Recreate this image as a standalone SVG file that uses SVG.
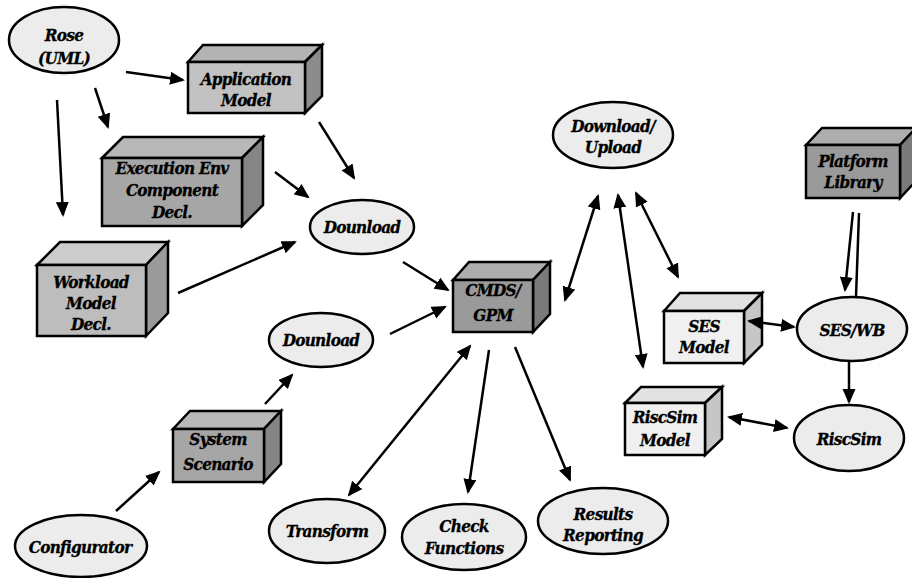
<svg xmlns="http://www.w3.org/2000/svg" width="912" height="578" viewBox="0 0 912 578">
  <style>
    text { font-family: "DejaVu Serif Condensed", "DejaVu Serif", serif; font-stretch: condensed; font-weight: 700; font-style: italic; font-size: 17px; fill: #000; stroke: #000; stroke-width: 0.3; text-anchor: middle; letter-spacing: -0.7px; }
    .oval { fill: #ececec; stroke: #000; stroke-width: 2.5; }
    .box path, .box rect { stroke: #000; stroke-width: 2.5; stroke-linejoin: miter; }
    .edge { stroke: #000; stroke-width: 2.5; fill: none; }
    .one { marker-end: url(#tip); }
    .two { marker-end: url(#tip); marker-start: url(#tip); }
    /* box shade sets: f = front, t = top, s = side */
    .lt .f { fill: #c2c2c2; } .lt .t { fill: #b3b3b3; } .lt .s { fill: #8c8c8c; }
    .md .f { fill: #a6a6a6; } .md .t { fill: #b8b8b8; } .md .s { fill: #858585; }
    .wl .f { fill: #bdbdbd; } .wl .t { fill: #cccccc; } .wl .s { fill: #9a9a9a; }
    .dk .f { fill: #9a9a9a; } .dk .t { fill: #adadad; } .dk .s { fill: #7a7a7a; }
    .pl .f { fill: #f0f0f0; } .pl .t { fill: #e2e2e2; } .pl .s { fill: #c6c6c6; }
  </style>
  <defs>
    <marker id="tip" markerUnits="userSpaceOnUse" markerWidth="17" markerHeight="14" refX="13" refY="6.5" orient="auto-start-reverse">
      <path d="M0,0 L15,6.5 L0,13 z" fill="#000"/>
    </marker>
  </defs>

  <!-- ovals -->
  <g id="rose">
    <ellipse class="oval" cx="64" cy="40" rx="55" ry="33"/>
    <text x="64" y="41">Rose</text>
    <text x="64" y="64">(UML)</text>
  </g>
  <g id="download-a">
    <ellipse class="oval" cx="362" cy="227" rx="52" ry="27"/>
    <text x="362" y="233">Dounload</text>
  </g>
  <g id="download-b">
    <ellipse class="oval" cx="321" cy="340" rx="52" ry="27"/>
    <text x="321" y="346">Dounload</text>
  </g>
  <g id="configurator">
    <ellipse class="oval" cx="81" cy="546" rx="66" ry="31"/>
    <text x="80" y="553">Configurator</text>
  </g>
  <g id="transform">
    <ellipse class="oval" cx="327" cy="531" rx="58" ry="32"/>
    <text x="327" y="537">Transform</text>
  </g>
  <g id="check-functions">
    <ellipse class="oval" cx="464" cy="537" rx="62" ry="33"/>
    <text x="464" y="532">Check</text>
    <text x="464" y="554">Functions</text>
  </g>
  <g id="results-reporting">
    <ellipse class="oval" cx="603" cy="521" rx="65" ry="33"/>
    <text x="603" y="520">Results</text>
    <text x="603" y="541">Reporting</text>
  </g>
  <g id="download-upload">
    <ellipse class="oval" cx="613" cy="135" rx="60" ry="33"/>
    <text x="613" y="132">Download/</text>
    <text x="613" y="153">Upload</text>
  </g>
  <g id="ses-wb">
    <ellipse class="oval" cx="852" cy="329" rx="55" ry="32"/>
    <text x="852" y="336">SES/WB</text>
  </g>
  <g id="riscsim">
    <ellipse class="oval" cx="849" cy="438" rx="55" ry="33"/>
    <text x="849" y="445">RiscSim</text>
  </g>

  <!-- boxes: front face rect, top and side faces offset by the box depth -->
  <g id="application-model" class="box lt">
    <path class="t" d="M188,62 L203,45 L322,45 L305,62 Z"/>
    <path class="s" d="M305,62 L322,45 L322,96 L305,113 Z"/>
    <rect class="f" x="188" y="62" width="117" height="51"/>
    <text x="246" y="85">Application</text>
    <text x="246" y="106">Model</text>
  </g>
  <g id="exec-env" class="box md">
    <path class="t" d="M102,158 L123,137 L263,137 L242,158 Z"/>
    <path class="s" d="M242,158 L263,137 L263,205 L242,226 Z"/>
    <rect class="f" x="102" y="158" width="140" height="68"/>
    <text x="172" y="174">Execution Env</text>
    <text x="172" y="196">Component</text>
    <text x="172" y="218">Decl.</text>
  </g>
  <g id="workload-model" class="box wl">
    <path class="t" d="M37,265 L60,242 L168,242 L146,265 Z"/>
    <path class="s" d="M146,265 L168,242 L168,313 L146,336 Z"/>
    <rect class="f" x="37" y="265" width="109" height="71"/>
    <text x="91" y="288">Workload</text>
    <text x="91" y="309">Model</text>
    <text x="91" y="330">Decl.</text>
  </g>
  <g id="cmds-gpm" class="box dk">
    <path class="t" d="M453,280 L469,262 L550,262 L533,280 Z"/>
    <path class="s" d="M533,280 L550,262 L550,314 L533,332 Z"/>
    <rect class="f" x="453" y="280" width="80" height="52"/>
    <text x="493" y="296">CMDS/</text>
    <text x="493" y="321">GPM</text>
  </g>
  <g id="ses-model" class="box pl">
    <path class="t" d="M664,311 L680,293 L762,293 L744,311 Z"/>
    <path class="s" d="M744,311 L762,293 L762,345 L744,363 Z"/>
    <rect class="f" x="664" y="311" width="80" height="52"/>
    <text x="704" y="332">SES</text>
    <text x="704" y="353">Model</text>
  </g>
  <g id="riscsim-model" class="box pl">
    <path class="t" d="M625,403 L641,387 L722,387 L705,403 Z"/>
    <path class="s" d="M705,403 L722,387 L722,439 L705,455 Z"/>
    <rect class="f" x="625" y="403" width="80" height="52"/>
    <text x="665" y="423">RiscSim</text>
    <text x="665" y="446">Model</text>
  </g>
  <g id="platform-library" class="box dk">
    <path class="t" d="M806,145 L822,128 L916,128 L900,145 Z"/>
    <path class="s" d="M900,145 L916,128 L916,181 L900,198 Z"/>
    <rect class="f" x="806" y="145" width="94" height="53"/>
    <text x="853" y="167">Platform</text>
    <text x="853" y="188">Library</text>
  </g>
  <g id="system-scenario" class="box md">
    <path class="t" d="M173,429 L190,411 L281,411 L264,429 Z"/>
    <path class="s" d="M264,429 L281,411 L281,464 L264,482 Z"/>
    <rect class="f" x="173" y="429" width="91" height="53"/>
    <text x="218" y="445">System</text>
    <text x="218" y="470">Scenario</text>
  </g>

  <!-- connectors, drawn over the nodes -->
  <g id="connectors">
    <line class="edge one" x1="126" y1="72" x2="183" y2="80"/>
    <line class="edge one" x1="95" y1="88" x2="108" y2="127"/>
    <line class="edge one" x1="57" y1="100" x2="63" y2="215"/>
    <line class="edge one" x1="319" y1="122" x2="354" y2="178"/>
    <line class="edge one" x1="275" y1="172" x2="308" y2="197"/>
    <line class="edge one" x1="178" y1="293" x2="295" y2="242"/>
    <line class="edge one" x1="403" y1="262" x2="448" y2="290"/>
    <line class="edge one" x1="390" y1="334" x2="445" y2="307"/>
    <line class="edge one" x1="265" y1="404" x2="292" y2="375"/>
    <line class="edge one" x1="116" y1="511" x2="159" y2="472"/>
    <line class="edge two" x1="470" y1="346" x2="349" y2="495"/>
    <line class="edge one" x1="489" y1="350" x2="468" y2="492"/>
    <line class="edge one" x1="515" y1="347" x2="570" y2="480"/>
    <line class="edge two" x1="565" y1="300" x2="598" y2="196"/>
    <line class="edge two" x1="618" y1="195" x2="643" y2="367"/>
    <line class="edge two" x1="636" y1="193" x2="678" y2="277"/>
    <line class="edge two" x1="749" y1="321" x2="794" y2="327"/>
    <line class="edge two" x1="729" y1="417" x2="787" y2="428"/>
    <line class="edge one" x1="849" y1="362" x2="849" y2="402"/>
    <line class="edge one" x1="853" y1="212" x2="845" y2="290"/>
    <line class="edge" x1="859" y1="213" x2="856" y2="297"/>
  </g>
</svg>
